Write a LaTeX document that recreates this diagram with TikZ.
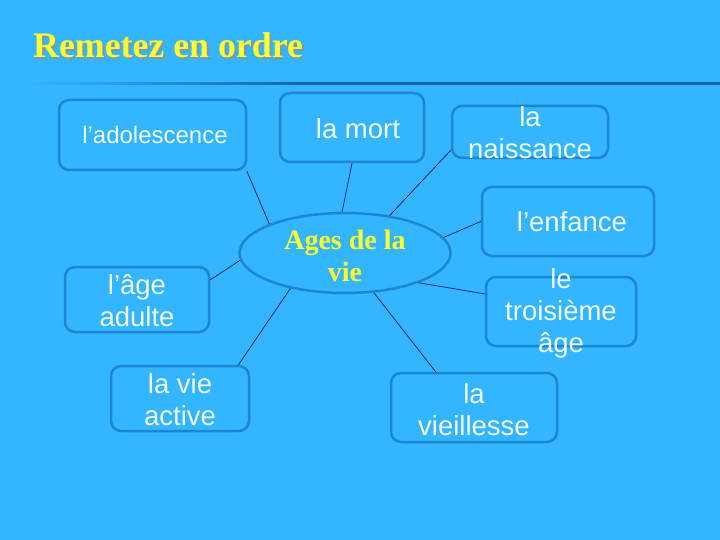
\documentclass[tikz,border=0pt]{standalone}
\usepackage{fontspec}
\setmainfont{Liberation Serif}
\setsansfont{Liberation Sans}
\usetikzlibrary{shapes.geometric}
\definecolor{fond}{RGB}{51,181,255}
\definecolor{bord}{RGB}{30,134,204}
\definecolor{trait}{RGB}{20,20,110}
\definecolor{jaune}{RGB}{255,255,51}
\definecolor{ombre}{RGB}{130,150,165}
\definecolor{ligne}{RGB}{25,100,170}
\definecolor{blanc}{RGB}{240,248,255}
\tikzset{
  boite/.style={draw=bord, line width=2.5pt, rounded corners=10pt, inner sep=0pt},
  etiq/.style={text=blanc, font=\sffamily\fontsize{27.5}{32}\selectfont, align=center, inner sep=0pt},
  lien/.style={draw=trait, line width=0.7pt}
}
\begin{document}
\begin{tikzpicture}[x=1pt,y=-1pt]
\useasboundingbox (0,0) rectangle (720,540);
\fill[fond] (0,0) rectangle (720,540);
% titre
\node[text=jaune, font=\bfseries\fontsize{35.8}{40}\selectfont, anchor=base west, inner sep=0pt] (titre) at (33,58)
  {\makebox[0pt][l]{\hspace{1.8pt}\raisebox{-1.8pt}{\textcolor{ombre}{Remetez en ordre}}}Remetez en ordre};
\shade[left color=fond, right color=ligne] (30,82.5) rectangle (301,84.8);
\fill[ligne] (300,82.5) rectangle (720,84.8);
% les boites
\node[boite, minimum width=187pt, minimum height=70pt] (adol) at (152.5,135) {};
\node[boite, minimum width=144pt, minimum height=69pt] (mort) at (352,127.5) {};
\node[boite, minimum width=156pt, minimum height=52pt] (naiss) at (530,132) {};
\node[boite, minimum width=172pt, minimum height=69pt] (enf) at (568,221.5) {};
\node[boite, minimum width=150pt, minimum height=69pt] (trois) at (561,311.5) {};
\node[boite, minimum width=166pt, minimum height=69pt] (vieil) at (474,407.5) {};
\node[boite, minimum width=144pt, minimum height=65pt] (adulte) at (137,299.5) {};
\node[boite, minimum width=138pt, minimum height=65pt] (active) at (180,398.5) {};
\node[ellipse, draw=bord, line width=2.5pt, minimum width=211pt, minimum height=80pt, inner sep=0pt] (ages) at (345,253) {};
% les textes
\node[etiq, font=\sffamily\fontsize{24}{32}\selectfont] (t-adol) at (155,135) {l’adolescence};
\node[etiq] (t-mort) at (358,129) {la mort};
\node[etiq] (t-naiss) at (530,133) {la\\naissance};
\node[etiq] (t-enf) at (572,222) {l’enfance};
\node[etiq] (t-trois) at (561,313) {le\\troisième\\âge};
\node[etiq] (t-vieil) at (474,410) {la\\vieillesse};
\node[etiq] (t-adulte) at (137,301) {l’âge\\adulte};
\node[etiq] (t-active) at (180,400) {la vie\\active};
\node[text=jaune, font=\bfseries\fontsize{28}{32}\selectfont, align=center, inner sep=0pt] (t-ages) at (345,256) {Ages de la\\vie};
% les liens
\draw[lien] (adol.-21) -- (ages.159);
\draw[lien] (mort.south) -- (ages.94);
\draw[lien] (naiss.193) -- (ages.40);
\draw[lien] (enf.west) -- (ages.9);
\draw[lien] (trois.167) -- (ages.-22);
\draw[lien] (vieil.137) -- (ages.-54);
\draw[lien] (active.30) -- (ages.213);
\draw[lien] (adulte.15) -- (ages.184);
\end{tikzpicture}
\end{document}
